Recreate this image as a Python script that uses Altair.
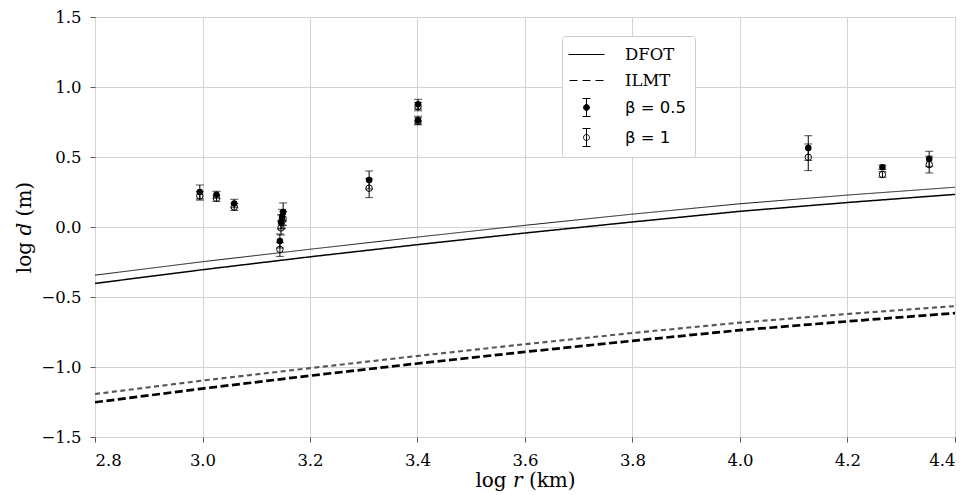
import altair as alt
import pandas as pd

# ---- model curves (log r grid and log d for each curve) ----
curve_logr = [2.8, 3.0, 3.2, 3.4, 3.6, 3.8, 4.0, 4.2, 4.4]
dfot_b1 = [-0.344, -0.248, -0.159, -0.072, 0.012, 0.092, 0.166, 0.228, 0.284]
dfot_b05 = [-0.403, -0.305, -0.213, -0.126, -0.043, 0.036, 0.112, 0.175, 0.233]
ilmt_b1 = [-1.193, -1.097, -1.008, -0.921, -0.837, -0.757, -0.683, -0.621, -0.565]
ilmt_b05 = [-1.252, -1.154, -1.062, -0.975, -0.892, -0.813, -0.737, -0.674, -0.615]

# ---- measured points ----
obs_logr = [2.995, 3.026, 3.059, 3.144, 3.146, 3.148, 3.150, 3.310, 3.401, 3.401, 4.127, 4.265, 4.352]
d_b05 = [0.250, 0.230, 0.168, -0.100, 0.036, 0.071, 0.107, 0.336, 0.877, 0.763, 0.564, 0.427, 0.486]
e_b05 = [0.050, 0.025, 0.030, 0.050, 0.050, 0.055, 0.065, 0.064, 0.035, 0.028, 0.088, 0.015, 0.055]
d_b1 = [0.222, 0.205, 0.143, -0.160, -0.007, 0.040, 0.060, 0.277, 0.860, 0.755, 0.498, 0.375, 0.446]
e_b1 = [0.030, 0.022, 0.025, 0.050, 0.050, 0.050, 0.050, 0.067, 0.030, 0.025, 0.095, 0.020, 0.060]

x_ticks = [2.8, 3.0, 3.2, 3.4, 3.6, 3.8, 4.0, 4.2, 4.4]
y_ticks = [-1.5, -1.0, -0.5, 0.0, 0.5, 1.0, 1.5]

legend_labels = ["DFOT", "ILMT", "β = 0.5", "β = 1"]

# ---- tables ----
rows = []
for name, vals, model, beta in [
    ("dfot_b1", dfot_b1, "DFOT", "1"),
    ("dfot_b05", dfot_b05, "DFOT", "0.5"),
    ("ilmt_b1", ilmt_b1, "ILMT", "1"),
    ("ilmt_b05", ilmt_b05, "ILMT", "0.5"),
]:
    for xv, yv in zip(curve_logr, vals):
        rows.append({"logr": xv, "logd": yv, "curve": name, "model": model, "beta": beta})
curves = pd.DataFrame(rows)

pts = pd.concat([
    pd.DataFrame({"logr": obs_logr, "logd": d_b05, "err": e_b05, "beta": "0.5"}),
    pd.DataFrame({"logr": obs_logr, "logd": d_b1, "err": e_b1, "beta": "1"}),
], ignore_index=True)
pts["lo"] = pts["logd"] - pts["err"]
pts["hi"] = pts["logd"] + pts["err"]

leg = pd.DataFrame({"label": legend_labels, "logr": [2.0] * 4, "logd": [0.0] * 4})

xscale = alt.Scale(domain=[2.8, 4.4], nice=False, zero=False)
yscale = alt.Scale(domain=[-1.5, 1.5], nice=False, zero=False)

X = alt.X("logr:Q", scale=xscale,
          axis=alt.Axis(values=x_ticks, format=".1f", title="log 𝑟 (km)"))
Y = alt.Y("logd:Q", scale=yscale,
          axis=alt.Axis(values=y_ticks, format=".1f", title="log 𝑑 (m)"))

curve_names = ["dfot_b1", "dfot_b05", "ilmt_b1", "ilmt_b05"]
lines = alt.Chart(curves).mark_line(clip=True).encode(
    x=X, y=Y, detail="curve:N",
    color=alt.Color("curve:N", scale=alt.Scale(
        domain=curve_names, range=["black", "black", "#555555", "black"]), legend=None),
    strokeDash=alt.StrokeDash("curve:N", scale=alt.Scale(
        domain=curve_names,
        range=[[1, 0], [1, 0], [5, 3.5], [8, 3.5]]), legend=None),
    strokeWidth=alt.StrokeWidth("curve:N", scale=alt.Scale(
        domain=curve_names,
        range=[0.9, 2.7, 0.8, 2.7]), legend=None),
)

bars = alt.Chart(pts).mark_rule(color="black", strokeWidth=1).encode(
    x=X, y=alt.Y("lo:Q", scale=yscale), y2="hi:Q")
cap_hi = alt.Chart(pts).mark_tick(color="black", orient="horizontal", size=8, thickness=1).encode(
    x=X, y=alt.Y("hi:Q", scale=yscale))
cap_lo = alt.Chart(pts).mark_tick(color="black", orient="horizontal", size=8, thickness=1).encode(
    x=X, y=alt.Y("lo:Q", scale=yscale))

filled = alt.Chart(pts).transform_filter("datum.beta == '0.5'").mark_point(
    filled=True, color="black", size=42, opacity=1, shape="circle").encode(x=X, y=Y)
opened = alt.Chart(pts).transform_filter("datum.beta == '1'").mark_point(
    filled=False, stroke="black", strokeWidth=1, size=42, opacity=1, shape="circle").encode(x=X, y=Y)

paths = [
    "M-1.8,0H1.8",
    "M-1.7,0H-0.9M-0.4,0H0.4M0.9,0H1.7",
    "M0,-0.9V0.9M-0.4,-0.9H0.4M-0.4,0.9H0.4M0.3,0A0.3,0.3 0 1 1 -0.3,0A0.3,0.3 0 1 1 0.3,0Z",
    "M0,-0.9V0.9M-0.4,-0.9H0.4M-0.4,0.9H0.4M0.3,0A0.3,0.3 0 1 1 -0.3,0A0.3,0.3 0 1 1 0.3,0Z",
]
legend_def = alt.Legend(
    title=None, orient="none", legendX=467, legendY=19,
    padding=8, rowPadding=7, labelOffset=28, symbolOffset=6,
    symbolStrokeColor="black", symbolStrokeWidth=1, symbolSize=400,
    labelFontSize=16.5, labelColor="black",
    labelFont=alt.ExprRef("indexof(datum.label, 'β') >= 0 ? 'DejaVu Sans' : 'DejaVu Serif'"),
    strokeColor="#cccccc", fillColor="white", cornerRadius=3,
)
legend_layer = alt.Chart(leg).mark_point(clip=True, size=400, strokeWidth=1, opacity=1).encode(
    x=X, y=Y,
    shape=alt.Shape("label:N", scale=alt.Scale(domain=legend_labels, range=paths), legend=legend_def),
    fill=alt.Fill("label:N", scale=alt.Scale(domain=legend_labels,
                  range=["transparent", "transparent", "black", "transparent"]), legend=legend_def),
    stroke=alt.Stroke("label:N", scale=alt.Scale(domain=legend_labels,
                      range=["black", "black", "black", "black"]), legend=legend_def),
)

chart = alt.layer(lines, bars, cap_hi, cap_lo, opened, filled, legend_layer).properties(
    width=860, height=420,
    autosize=alt.AutoSizeParams(type="none"),
    padding={"left": 87, "top": 9, "right": 11, "bottom": 56},
).configure_view(stroke="#555555", strokeWidth=1).configure_axis(
    grid=True, gridColor="#d3d3d3", gridWidth=1, domain=False,
    tickColor="#555555", tickSize=5, tickWidth=1,
    labelFont="DejaVu Serif", labelFontSize=16.5, labelColor="black",
    titleFont="DejaVu Serif", titleFontSize=20, titleFontWeight="normal", titleColor="black",
).configure_axisX(labelPadding=10, titlePadding=2).configure_axisY(labelPadding=9, titlePadding=6)

chart.save("out.html", embed_options={"renderer": "svg", "actions": False})
